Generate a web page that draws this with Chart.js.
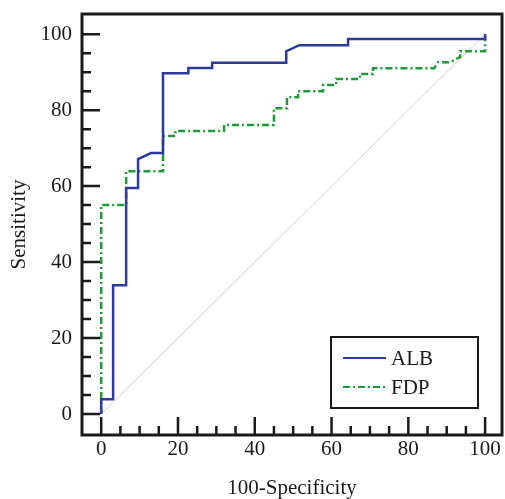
<!DOCTYPE html>
<html>
<head>
<meta charset="utf-8">
<script src="https://cdn.jsdelivr.net/npm/chart.js@4/dist/chart.umd.min.js"></script>
<style>
  html, body { margin: 0; padding: 0; background: #fff; }
  #wrap { width: 505px; height: 499px; position: relative; }
</style>
</head>
<body>
<div id="wrap"><canvas id="rocChart"></canvas></div>
<script>
// ROC points (100-Specificity, Sensitivity)
const ALB_X = [0, 0, 3.1, 3.1, 6.5, 6.5, 9.6, 9.6, 13.0, 16.1, 16.1, 22.7, 22.7, 28.9, 28.9, 48.2, 48.2, 51.6, 64.3, 64.3, 100, 100];
const ALB_Y = [0, 3.9, 3.9, 33.9, 33.9, 59.5, 59.5, 67.1, 68.7, 68.7, 89.7, 89.7, 91.1, 91.1, 92.5, 92.5, 95.5, 97.1, 97.1, 98.7, 98.7, 100];

const FDP_X = [0, 0, 6.5, 6.5, 16.1, 16.1, 19.3, 19.3, 32.0, 32.0, 45.0, 45.0, 48.4, 48.4, 51.3, 51.3, 57.8, 57.8, 61.2, 61.2, 67.4, 67.4, 70.8, 70.8, 86.7, 87.7, 90.9, 93.5, 93.5, 100, 100];
const FDP_Y = [0, 55.0, 55.0, 63.9, 63.9, 73.2, 73.2, 74.5, 74.5, 76.1, 76.1, 80.5, 80.5, 83.4, 83.4, 85.0, 85.0, 86.6, 86.6, 88.2, 88.2, 89.5, 89.5, 91.0, 91.0, 92.6, 92.6, 94.0, 95.5, 95.5, 100];

const DIAG_X = [0, 100];
const DIAG_Y = [0, 100];

const SERIES_LABELS = ["ALB", "FDP"];
const X_TICKS = [0, 20, 40, 60, 80, 100];
const Y_TICKS = [0, 20, 40, 60, 80, 100];
const MINOR_STEP = 5;

const toPoints = (xs, ys) => xs.map((x, i) => ({ x: x, y: ys[i] }));

const FONT = { family: "'Liberation Serif', 'DejaVu Serif', serif", size: 21 };
const INK = "#1a1a1a";
const BLUE = "#2d3a9c";
const GREEN = "#1f9a3a";

// frame + inward ticks drawn like the original plot box
const framePlugin = {
  id: "frame",
  afterDatasetsDraw(chart) {
    const { ctx, chartArea: a, scales } = chart;
    ctx.save();
    ctx.strokeStyle = INK;
    ctx.lineWidth = 2.5;
    ctx.beginPath();
    for (let v = 0; v <= 100; v += MINOR_STEP) {
      const len = X_TICKS.includes(v) ? 18 : 9;
      const px = scales.x.getPixelForValue(v);
      ctx.moveTo(px, a.bottom);
      ctx.lineTo(px, a.bottom - len);
      const leny = Y_TICKS.includes(v) ? 18 : 9;
      const py = scales.y.getPixelForValue(v);
      ctx.moveTo(a.left, py);
      ctx.lineTo(a.left + leny, py);
    }
    ctx.stroke();
    ctx.lineWidth = 3;
    ctx.strokeRect(a.left, a.top, a.right - a.left, a.bottom - a.top);
    ctx.restore();
  }
};

// boxed legend in the lower right corner
const legendBox = {
  id: "legendBox",
  afterDraw(chart) {
    const { ctx, chartArea: a } = chart;
    const x1 = a.right - 171, y1 = a.bottom - 98;
    const w = 147, h = 71;
    ctx.save();
    ctx.fillStyle = "#fff";
    ctx.fillRect(x1, y1, w, h);
    ctx.strokeStyle = INK;
    ctx.lineWidth = 2;
    ctx.strokeRect(x1, y1, w, h);
    ctx.font = FONT.size + "px " + FONT.family;
    ctx.textBaseline = "middle";
    ctx.fillStyle = INK;
    chart.data.datasets.slice(0, 2).forEach((ds, i) => {
      const y = y1 + 21 + i * 29;
      ctx.strokeStyle = ds.borderColor;
      ctx.lineWidth = 2;
      ctx.setLineDash(ds.borderDash || []);
      ctx.beginPath();
      ctx.moveTo(x1 + 12, y);
      ctx.lineTo(x1 + 55, y);
      ctx.stroke();
      ctx.setLineDash([]);
      ctx.fillText(ds.label, x1 + 60, y + 1);
    });
    ctx.restore();
  }
};

new Chart(document.getElementById("rocChart"), {
  type: "scatter",
  data: {
    datasets: [
      {
        label: SERIES_LABELS[0],
        data: toPoints(ALB_X, ALB_Y),
        showLine: true,
        borderColor: BLUE,
        borderWidth: 2.5,
        pointRadius: 0,
        tension: 0
      },
      {
        label: SERIES_LABELS[1],
        data: toPoints(FDP_X, FDP_Y),
        showLine: true,
        borderColor: GREEN,
        borderWidth: 2.5,
        borderDash: [7, 3, 2, 3],
        pointRadius: 0,
        tension: 0
      },
      {
        label: "diag",
        data: toPoints(DIAG_X, DIAG_Y),
        showLine: true,
        borderColor: "#d9cdd0",
        borderWidth: 1,
        pointRadius: 0
      }
    ]
  },
  options: {
    responsive: true,
    maintainAspectRatio: false,
    animation: false,
    layout: { padding: { top: 14, right: 3, left: 0, bottom: 0 } },
    plugins: { legend: { display: false }, tooltip: { enabled: false } },
    scales: {
      x: {
        type: "linear",
        min: -5,
        max: 104.4,
        afterBuildTicks: (s) => { s.ticks = X_TICKS.map(v => ({ value: v })); },
        afterFit: (s) => { s.height = 64; s.paddingLeft = 0; s.paddingRight = 0; },
        grid: { display: false, drawTicks: false },
        border: { display: false },
        ticks: { font: FONT, color: INK, padding: 2, maxRotation: 0 },
        title: { display: true, text: "100-Specificity", font: { ...FONT, lineHeight: 1.0 }, color: INK, padding: { top: 0, bottom: 0 } }
      },
      y: {
        type: "linear",
        min: -5.5,
        max: 105.3,
        afterBuildTicks: (s) => { s.ticks = Y_TICKS.map(v => ({ value: v })); },
        afterFit: (s) => { s.width = 82; s.paddingTop = 0; s.paddingBottom = 0; },
        grid: { display: false, drawTicks: false },
        border: { display: false },
        ticks: { font: FONT, color: INK, padding: 10 },
        title: { display: true, text: "Sensitivity", font: FONT, color: INK, padding: { top: 7, bottom: 0 } }
      }
    }
  },
  plugins: [framePlugin, legendBox]
});
</script>
</body>
</html>
